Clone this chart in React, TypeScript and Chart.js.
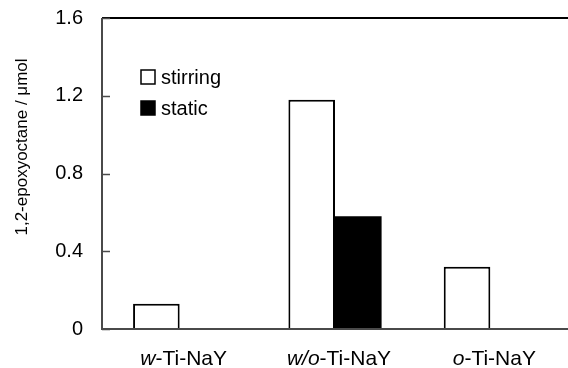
import React, { useEffect, useRef } from "react";
import { Chart, registerables } from "chart.js";

Chart.register(...registerables);

const categories = ["w-Ti-NaY", "w/o-Ti-NaY", "o-Ti-NaY"];
const italicParts = ["w", "w/o", "o"];
const normalParts = ["-Ti-NaY", "-Ti-NaY", "-Ti-NaY"];
const stirring = [0.13, 1.18, 0.32];
const staticVals: (number | null)[] = [null, 0.58, null];
const yTicks = [0, 0.4, 0.8, 1.2, 1.6];
const yTitle = "1,2-epoxyoctane / μmol";
const seriesLabels = ["stirring", "static"];

const FONT = "'Liberation Sans', Arial, Helvetica, sans-serif";

export default function App() {
  const ref = useRef<HTMLCanvasElement | null>(null);

  useEffect(() => {
    if (!ref.current) return;
    const decor = {
      id: "decor",
      afterDraw(chart: any) {
        const ctx = chart.ctx;
        const a = chart.chartArea;
        const x = chart.scales.x;
        const y = chart.scales.y;
        ctx.save();
        // top border
        ctx.strokeStyle = "#000";
        ctx.lineWidth = 2;
        ctx.beginPath();
        ctx.moveTo(a.left, a.top);
        ctx.lineTo(a.right, a.top);
        ctx.stroke();
        // left & bottom axis
        ctx.strokeStyle = "#4a4a4a";
        ctx.lineWidth = 2;
        ctx.beginPath();
        ctx.moveTo(a.left, a.top);
        ctx.lineTo(a.left, a.bottom);
        ctx.lineTo(a.right, a.bottom);
        ctx.stroke();
        // inside ticks
        ctx.lineWidth = 1.5;
        yTicks.forEach((v) => {
          const py = Math.round(y.getPixelForValue(v)) + 0.5;
          ctx.beginPath();
          ctx.moveTo(a.left, py);
          ctx.lineTo(a.left + 8, py);
          ctx.stroke();
        });
        // x labels, mixed italic
        ctx.fillStyle = "#000";
        ctx.textBaseline = "middle";
        ctx.textAlign = "left";
        categories.forEach((_, i) => {
          const cx = x.getPixelForTick(i) + 4;
          const itFont = `italic 21px ${FONT}`;
          const nFont = `21px ${FONT}`;
          ctx.font = itFont;
          const w1 = ctx.measureText(italicParts[i]).width;
          ctx.font = nFont;
          const w2 = ctx.measureText(normalParts[i]).width;
          const start = cx - (w1 + w2) / 2;
          ctx.font = itFont;
          ctx.fillText(italicParts[i], start, 359);
          ctx.font = nFont;
          ctx.fillText(normalParts[i], start + w1, 359);
        });
        // y title
        ctx.save();
        ctx.translate(22, 147);
        ctx.rotate(-Math.PI / 2);
        ctx.textAlign = "center";
        ctx.textBaseline = "middle";
        ctx.font = `17px ${FONT}`;
        ctx.fillText(yTitle, 0, 0);
        ctx.restore();
        // legend
        const ds = chart.data.datasets;
        ctx.font = `20px ${FONT}`;
        ctx.textAlign = "left";
        ctx.textBaseline = "middle";
        ds.forEach((d: any, i: number) => {
          const cy = 77 + i * 31;
          ctx.fillStyle = d.backgroundColor;
          ctx.fillRect(141, cy - 7, 14, 14);
          ctx.strokeStyle = "#000";
          ctx.lineWidth = 1.5;
          ctx.strokeRect(141, cy - 7, 14, 14);
          ctx.fillStyle = "#000";
          ctx.fillText(d.label, 161, cy + 1);
        });
        ctx.restore();
      },
    };

    const chart = new Chart(ref.current, {
      type: "bar",
      data: {
        labels: categories,
        datasets: [
          {
            label: seriesLabels[0],
            data: stirring,
            backgroundColor: "#ffffff",
            borderColor: "#000000",
            borderWidth: 2,
            borderSkipped: "bottom",
          },
          {
            label: seriesLabels[1],
            data: staticVals,
            backgroundColor: "#000000",
            borderColor: "#000000",
            borderWidth: 0,
          },
        ],
      },
      options: {
        responsive: false,
        animation: false,
        layout: { padding: { top: 18, right: 0, left: 0, bottom: 0 } },
        categoryPercentage: 0.6,
        barPercentage: 1.0,
        plugins: { legend: { display: false }, tooltip: { enabled: false } },
        scales: {
          x: {
            grid: { display: false, drawTicks: false },
            border: { display: false },
            ticks: { display: false },
            afterFit: (s: any) => {
              s.height = 39;
              s.paddingLeft = 0;
              s.paddingRight = 0;
            },
          },
          y: {
            min: 0,
            max: 1.6,
            afterBuildTicks: (s: any) => {
              s.ticks = yTicks.map((v) => ({ value: v }));
            },
            grid: { display: false, drawTicks: false },
            border: { display: false },
            ticks: {
              color: "#000",
              padding: 19,
              font: { family: FONT, size: 20 },
              callback: (v: any) => String(v),
            },
            afterFit: (s: any) => {
              s.width = 102;
              s.paddingTop = 0;
              s.paddingBottom = 0;
            },
          },
        },
      } as any,
      plugins: [decor],
    });
    return () => chart.destroy();
  }, []);

  return (
    <div style={{ position: "absolute", left: 0, top: 0, width: 568, height: 368, background: "#fff" }}>
      <canvas ref={ref} width={568} height={368} style={{ display: "block" }} />
    </div>
  );
}
